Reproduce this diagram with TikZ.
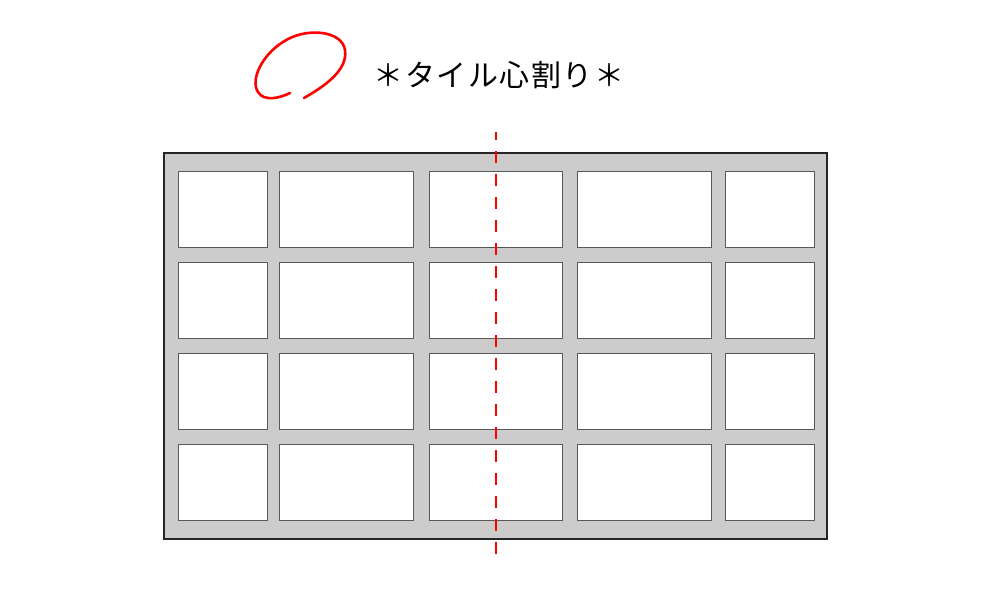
\documentclass[tikz,border=0pt]{standalone}
\usepackage{fontspec}
\newfontfamily\jpfont[LetterSpace=4.8]{Noto Sans CJK JP}
\usetikzlibrary{positioning}

\begin{document}
\begin{tikzpicture}[x=1pt,y=-1pt,
  tile/.style={draw=black!65,fill=white,line width=0.9pt}]
\useasboundingbox (0,0) rectangle (1000,600);
% frame of joints
\draw[fill=black!20,draw=black!85,line width=1.3pt] (164,153) rectangle (827,539);
\foreach \xa/\xb in {178/267,279/413,429/562,577/711,725/814}
  \foreach \ya/\yb in {171/247,262/338,353/429,444/520}
    \draw[tile] (\xa,\ya) rectangle (\xb,\yb);
% centre line
\draw[red,line width=2.6pt,dash pattern=on 12pt off 11pt,dash phase=4pt] (496,132) -- (496,558);
% red mark
\draw[red,line width=2.6pt,line cap=round] (304,98) .. controls (325,86) and (348,70) .. (345,50)
  .. controls (342,30) and (305,27) .. (283,42)
  .. controls (262,55) and (250,80) .. (258,92)
  .. controls (264,102) and (280,98) .. (290,93);
\node[anchor=base,inner sep=0pt,font=\jpfont\fontsize{30pt}{36pt}\selectfont] (title) at (499,86) {＊タイル心割り＊};
\end{tikzpicture}
\end{document}
